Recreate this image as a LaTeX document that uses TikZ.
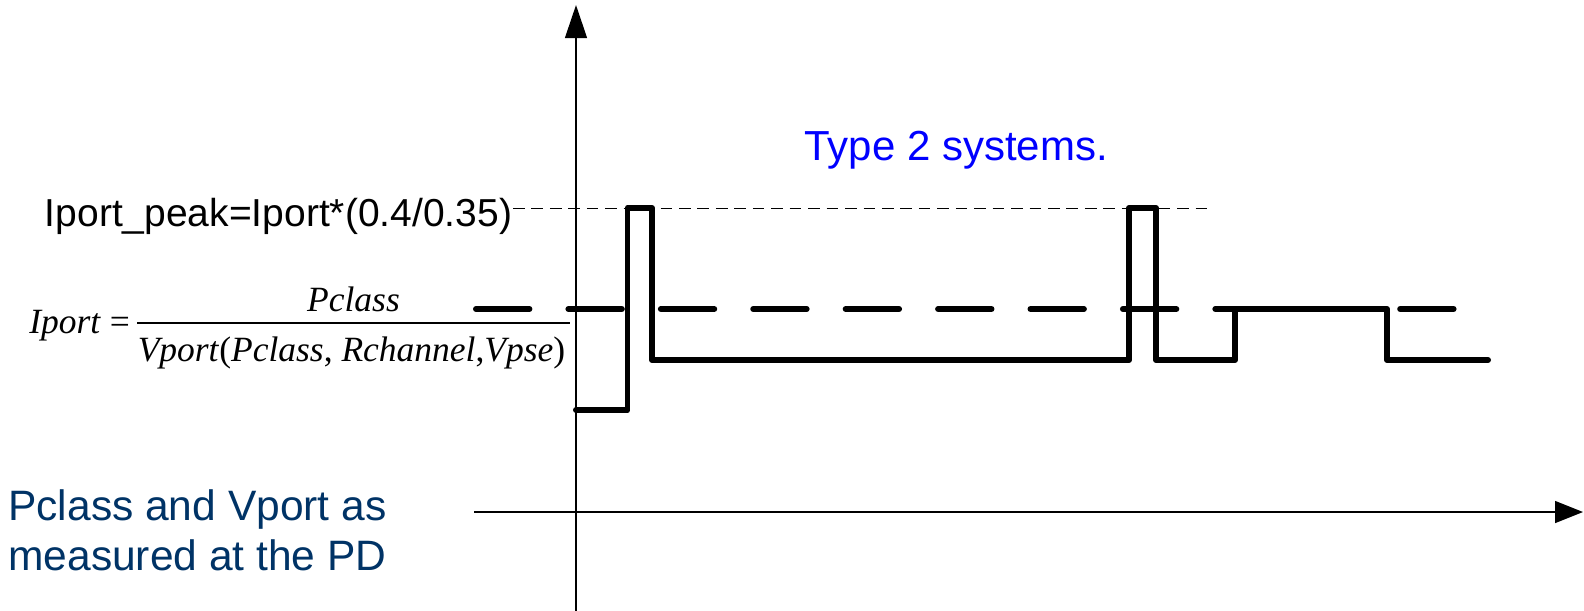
\documentclass[tikz,border=0pt]{standalone}
\usepackage{fontspec}
\setmainfont{Liberation Sans}
\newfontfamily\tnr{Liberation Serif}
\usetikzlibrary{arrows.meta}
\definecolor{typeblue}{RGB}{0,0,255}
\definecolor{pdblue}{RGB}{0,51,102}
\begin{document}
\begin{tikzpicture}[x=0.02cm,y=-0.02cm,
  axis/.style={line width=1.14pt},
  wave/.style={line width=3.4pt, line cap=round, line join=round},
  meanline/.style={line width=3.4pt, line cap=round, dash pattern=on 30.4pt off 22.2pt},
  peakline/.style={line width=0.5pt, dash pattern=on 6.6pt off 3.9pt},
  lbl/.style={inner sep=0pt, anchor=base west},
  frm/.style={inner sep=0pt, font=\tnr\fontsize{20.2pt}{24pt}\selectfont}]
\useasboundingbox (0,0) rectangle (1584,610);

% axes
\coordinate (ybot) at (576,612);
\coordinate (ytop) at (576,5);
\draw[axis, -{Triangle[length=18.8pt,width=12.4pt]}] (ybot) -- (ytop);
\coordinate (xl) at (474,512);
\coordinate (xr) at (1583,512);
\draw[axis, -{Triangle[length=15.9pt,width=12.4pt]}] (xl) -- (xr);

% reference lines
\coordinate (m1) at (476,309);
\coordinate (m2) at (1454,309);
\draw[meanline] (m1) -- (m2);
\coordinate (p1) at (513,208);
\coordinate (p2) at (1210,208);
\draw[peakline] (p1) -- (p2);

% waveform
\draw[wave] (576,410) -- (627.5,410) -- (627.5,208) -- (652,208) -- (652,360)
  -- (1129,360) -- (1129,208) -- (1156,208) -- (1156,360) -- (1235,360)
  -- (1235,309) -- (1387,309) -- (1387,360) -- (1488,360);

% labels
\node[lbl, font=\fontsize{22.2pt}{26pt}\selectfont] (peak) at (44.5,226.5) {Iport\_peak=Iport*(0.4/0.35)};
\node[lbl, text=typeblue, font=\fontsize{23.9pt}{28pt}\selectfont] (type) at (804,160.7) {Type 2 systems.};
\node[lbl, text=pdblue, font=\fontsize{24.2pt}{28pt}\selectfont] (pd1) at (8,520) {Pclass and Vport as};
\node[lbl, text=pdblue, font=\fontsize{24.2pt}{28pt}\selectfont] (pd2) at (8,570) {measured at the PD};

% formula
\node[frm, anchor=base west] (iport) at (29,333.3) {\textit{Iport} =};
\node[frm, anchor=base] (num) at (353.5,311) {\textit{Pclass}};
\coordinate (b1) at (137,323);
\coordinate (b2) at (570,323);
\draw[line width=0.9pt] (b1) -- (b2);
\node[frm, anchor=base] (den) at (351.5,361.7) {\textit{Vport}(\textit{Pclass},\hspace{0.25em}\textit{Rchannel},\textit{Vpse})};
\end{tikzpicture}
\end{document}
